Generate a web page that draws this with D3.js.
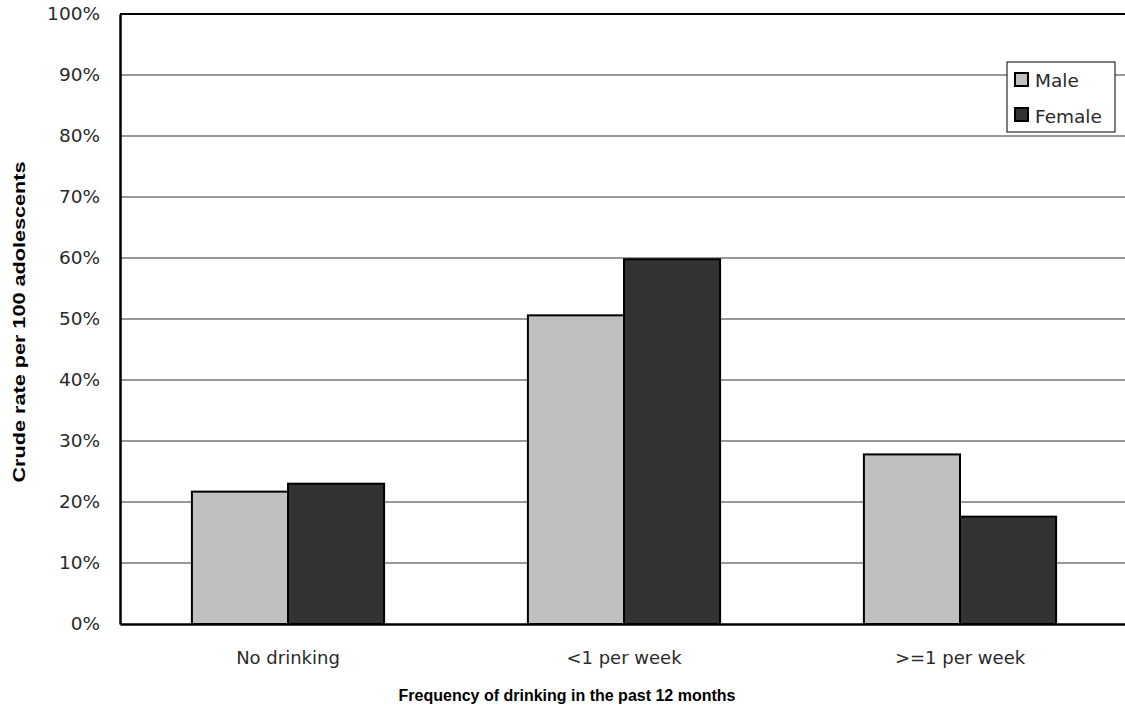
<!DOCTYPE html>
<html>
<head>
<meta charset="utf-8">
<script src="https://cdn.jsdelivr.net/npm/d3@7"></script>
<style>
  body { margin: 0; background: #fff; }
  svg { display: block; font-family: "Liberation Sans", Arial, sans-serif; }
  .lbl { font-family: "DejaVu Sans", sans-serif; font-weight: 400; }
</style>
</head>
<body>
<svg id="chart" width="1125" height="714"></svg>
<script>
const categories = ["No drinking", "<1 per week", ">=1 per week"];
const seriesNames = ["Male", "Female"];
const maleValues = [21.7, 50.6, 27.8];
const femaleValues = [23.0, 59.8, 17.6];
const yTicks = [0, 10, 20, 30, 40, 50, 60, 70, 80, 90, 100];
const colors = ["#c0c0c0", "#333333"];

const svg = d3.select("#chart");
const margin = { left: 120, top: 14, right: -3, bottom: 90 };
const width = 1125 - margin.left - margin.right;
const height = 714 - margin.top - margin.bottom;
const g = svg.append("g").attr("transform", "translate(" + margin.left + "," + margin.top + ")");

const x = d3.scaleBand().domain(categories).range([0, width]).paddingInner(0).paddingOuter(0);
const inner = d3.scaleBand().domain(seriesNames).range([x.bandwidth() * 0.214, x.bandwidth() * 0.786]);
const y = d3.scaleLinear().domain([0, 100]).range([height, 0]);

// gridlines
g.selectAll(".grid").data(yTicks.filter(t => t > 0 && t < 100)).enter()
  .append("line")
  .attr("x1", 0).attr("x2", width)
  .attr("y1", d => y(d)).attr("y2", d => y(d))
  .attr("stroke", "#333").attr("stroke-width", 1);

// top border
g.append("line").attr("x1", 0).attr("x2", width).attr("y1", y(100)).attr("y2", y(100))
  .attr("stroke", "#000").attr("stroke-width", 2);

// bars
const data = categories.map((c, i) => ({ cat: c, vals: [maleValues[i], femaleValues[i]] }));
const groups = g.selectAll(".grp").data(data).enter().append("g")
  .attr("transform", d => "translate(" + x(d.cat) + ",0)");
groups.selectAll("rect").data(d => d.vals.map((v, j) => ({ s: seriesNames[j], v: v, j: j }))).enter()
  .append("rect")
  .attr("x", d => inner(d.s))
  .attr("width", inner.bandwidth())
  .attr("y", d => y(d.v))
  .attr("height", d => y(0) - y(d.v))
  .attr("fill", d => colors[d.j])
  .attr("stroke", "#000").attr("stroke-width", 2);

// y axis
const yAxis = d3.axisLeft(y).tickValues(yTicks).tickSize(0).tickPadding(20).tickFormat(d => d + "%");
const ya = g.append("g").call(yAxis);
ya.select(".domain").attr("stroke", "#000").attr("stroke-width", 2.5);
ya.selectAll("text").attr("class", "lbl").style("font-size", "18.5px").attr("fill", "#2a2a2a");

// x axis
const xAxis = d3.axisBottom(x).tickSize(0).tickPadding(27);
const xa = g.append("g").attr("transform", "translate(0," + height + ")").call(xAxis);
xa.select(".domain").attr("stroke", "#000").attr("stroke-width", 2.5);
xa.selectAll("text").attr("class", "lbl").style("font-size", "18px").attr("fill", "#2a2a2a");

// axis titles
svg.append("text")
  .attr("x", 567).attr("y", 701)
  .attr("text-anchor", "middle")
  .style("font-size", "16px").style("font-weight", "bold")
  .text("Frequency of drinking in the past 12 months");

svg.append("text")
  .attr("transform", "translate(25,322) rotate(-90)")
  .attr("text-anchor", "middle")
  .attr("textLength", 321).attr("lengthAdjust", "spacingAndGlyphs")
  .style("font-size", "16px").style("font-weight", "bold")
  .text("Crude rate per 100 adolescents");

// legend
const legend = svg.append("g").attr("transform", "translate(1007,62)");
legend.append("rect").attr("width", 108).attr("height", 70)
  .attr("fill", "#fff").attr("stroke", "#000").attr("stroke-width", 1);
seriesNames.forEach((s, i) => {
  legend.append("rect")
    .attr("x", 8).attr("y", 11 + i * 35).attr("width", 13).attr("height", 13)
    .attr("fill", colors[i]).attr("stroke", "#000").attr("stroke-width", 2);
  legend.append("text")
    .attr("class", "lbl")
    .attr("x", 28).attr("y", 25 + i * 36)
    .style("font-size", "18.5px").attr("fill", "#2a2a2a")
    .text(s);
});
</script>
</body>
</html>
